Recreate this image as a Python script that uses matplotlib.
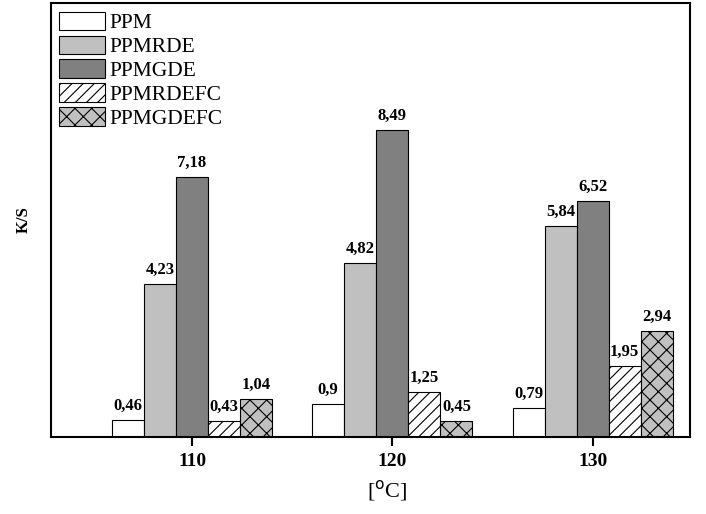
import numpy as np
import matplotlib.pyplot as plt

# data
temps = ['110', '120', '130']
series = ['PPM', 'PPMRDE', 'PPMGDE', 'PPMRDEFC', 'PPMGDEFC']
ppm = [0.46, 0.9, 0.79]
ppmrde = [4.23, 4.82, 5.84]
ppmgde = [7.18, 8.49, 6.52]
ppmrdefc = [0.43, 1.25, 1.95]
ppmgdefc = [1.04, 0.45, 2.94]

values = [ppm, ppmrde, ppmgde, ppmrdefc, ppmgdefc]
faces = ['white', '#c0c0c0', '#808080', 'white', '#c0c0c0']
hatches = [None, None, None, '///', 'xx']

plt.rcParams['font.family'] = ['Liberation Serif', 'DejaVu Serif']
plt.rcParams['hatch.linewidth'] = 0.8

fig = plt.figure(figsize=(7.06, 5.14), dpi=100)
ax = fig.add_axes([0.072, 0.150, 0.905, 0.844])

x = np.arange(len(temps))
w = 0.16
for i, (name, vals) in enumerate(zip(series, values)):
    pos = x + (i - 2) * w
    bars = ax.bar(pos, vals, w, color=faces[i], edgecolor='black',
                  linewidth=0.8, hatch=hatches[i], label=name)
    for b, v in zip(bars, vals):
        ax.text(b.get_x() + b.get_width() / 2, v + 0.17,
                ('%g' % v).replace('.', ','), ha='center', va='bottom',
                fontsize=12, fontweight='bold')

ax.set_xlim(-0.705, 2.485)
ax.set_ylim(0, 12)
ax.set_xticks(x)
ax.set_xticklabels(temps, fontsize=14, fontweight='bold')
ax.set_yticks([])
ax.tick_params(axis='x', direction='out', length=6.5, width=1.5, pad=5)
for s in ax.spines.values():
    s.set_linewidth(1.5)

ax.set_ylabel('K/S', fontsize=12, fontweight='bold', labelpad=14)
ax.set_xlabel('[$^{\\mathrm{o}}$C]', fontsize=16)
ax.xaxis.set_label_coords(0.526, -0.095)

leg = ax.legend(loc='upper left', frameon=False, fontsize=15.5,
                handlelength=2.1, handleheight=0.95, labelspacing=0.1,
                handletextpad=0.2, borderaxespad=0.2, borderpad=0.2)

fig.savefig('out.png', dpi=100)
